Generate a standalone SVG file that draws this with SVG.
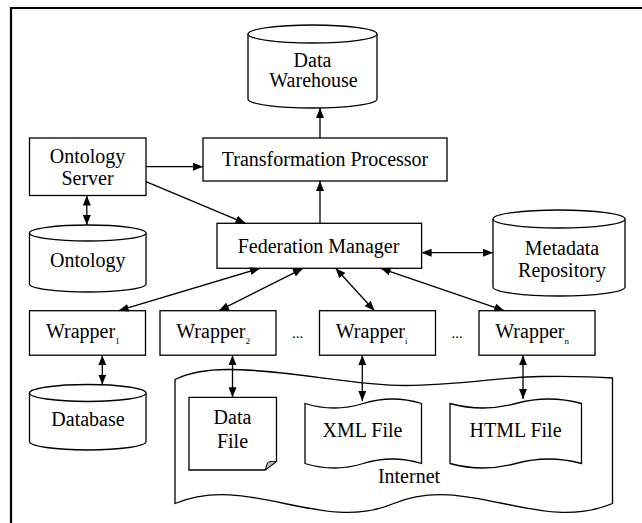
<svg xmlns="http://www.w3.org/2000/svg" width="642" height="523" viewBox="0 0 642 523">
  <defs>
    <style>
      .shape { fill: #fff; stroke: #000; stroke-width: 1.3; }
      .edge { fill: none; stroke: #000; stroke-width: 1.3; }
      .lbl { font-family: "Liberation Serif", "Times New Roman", serif; font-size: 20px; fill: #000; }
      .mid { text-anchor: middle; }
      .sub { font-size: 9px; }
      .dots { font-family: "Liberation Serif", "Times New Roman", serif; font-size: 15px; text-anchor: middle; fill: #000; }
      .frame { fill: none; stroke: #000; stroke-width: 2.2; }
    </style>
    <marker id="ah" viewBox="0 0 10 8" refX="10" refY="4" markerWidth="10" markerHeight="8" orient="auto-start-reverse" markerUnits="userSpaceOnUse">
      <path d="M0,0 L10,4 L0,8 Z" fill="#000"/>
    </marker>
  </defs>
  <rect width="642" height="523" fill="#fff"/>

  <!-- page frame (top and left edges) -->
  <path class="frame" d="M11,523 V8 H642"/>

  <!-- Internet region: wavy top and bottom edges -->
  <g id="internet">
    <path class="shape" d="M175,379.5 C190,372 208,369.5 228,369.5 C290,369.5 350,385.5 405,385.5 C460,385.5 500,377 540,376.5 C575,376 600,377 612.5,378 V503.5 C539.6,534.5 466.7,472.5 393.75,503.5 C321,534.5 248,472.5 175,503.5 Z"/>
    <text class="lbl mid" x="409" y="483">Internet</text>
  </g>

  <g id="data-warehouse">
    <path class="shape" d="M248,34 V99 A64.5,9 0 0 0 377,99 V34"/>
    <ellipse class="shape" cx="312.5" cy="34" rx="64.5" ry="9"/>
    <text class="lbl mid" x="312.5" y="67">Data</text>
    <text class="lbl mid" x="313.5" y="87">Warehouse</text>
  </g>

  <g id="transformation-processor">
    <rect class="shape" x="203" y="138" width="244" height="43"/>
    <text class="lbl mid" x="325" y="166">Transformation Processor</text>
  </g>

  <g id="ontology-server">
    <rect class="shape" x="29.5" y="138" width="116.5" height="57.5"/>
    <text class="lbl mid" x="87.5" y="163">Ontology</text>
    <text class="lbl mid" x="87.5" y="185">Server</text>
  </g>

  <g id="ontology">
    <path class="shape" d="M29.5,233 V284 A58.25,8 0 0 0 146,284 V233"/>
    <ellipse class="shape" cx="87.75" cy="233" rx="58.25" ry="8"/>
    <text class="lbl mid" x="87.75" y="267">Ontology</text>
  </g>

  <g id="federation-manager">
    <rect class="shape" x="217" y="223.3" width="204.6" height="45"/>
    <text class="lbl mid" x="318.5" y="253">Federation Manager</text>
  </g>

  <g id="metadata-repository">
    <path class="shape" d="M493,219 V287 A66,9 0 0 0 625,287 V219"/>
    <ellipse class="shape" cx="559" cy="219" rx="66" ry="9"/>
    <text class="lbl mid" x="562" y="255">Metadata</text>
    <text class="lbl mid" x="562" y="277">Repository</text>
  </g>

  <g id="wrapper-1">
    <rect class="shape" x="29.5" y="310.7" width="116" height="44.5"/>
    <text class="lbl" x="46" y="338">Wrapper<tspan class="sub" dy="6">1</tspan></text>
  </g>
  <g id="wrapper-2">
    <rect class="shape" x="160" y="310.7" width="116" height="44.5"/>
    <text class="lbl" x="176.3" y="338">Wrapper<tspan class="sub" dy="6">2</tspan></text>
  </g>
  <g id="wrapper-i">
    <rect class="shape" x="319.5" y="310.7" width="116" height="44.5"/>
    <text class="lbl" x="335.8" y="338">Wrapper<tspan class="sub" dy="6">i</tspan></text>
  </g>
  <g id="wrapper-n">
    <rect class="shape" x="479" y="310.7" width="116" height="44.5"/>
    <text class="lbl" x="495.3" y="338">Wrapper<tspan class="sub" dy="6">n</tspan></text>
  </g>
  <text class="dots" x="297.5" y="338">...</text>
  <text class="dots" x="457" y="338">...</text>

  <g id="database">
    <path class="shape" d="M29.5,393 V441.5 A58.25,8.5 0 0 0 146,441.5 V393"/>
    <ellipse class="shape" cx="87.75" cy="393" rx="58.25" ry="8.5"/>
    <text class="lbl mid" x="88" y="426">Database</text>
  </g>

  <g id="data-file">
    <path class="shape" d="M189,397.3 H276.5 V461.5 L265,470 H189 Z"/>
    <path d="M276.5,461.5 Q268,461 267.5,463 L265,470 Z" fill="#bbb" stroke="#000" stroke-width="1"/>
    <text class="lbl mid" x="232.5" y="424">Data</text>
    <text class="lbl mid" x="232.5" y="447.5">File</text>
  </g>

  <g id="xml-file">
    <path class="shape" d="M305,403.5 Q334.1,412.5 363.25,403.5 Q392.4,394.5 421.5,403.5 V463.5 Q392.4,454.5 363.25,463.5 Q334.1,472.5 305,463.5 Z"/>
    <text class="lbl mid" x="362.5" y="437">XML File</text>
  </g>

  <g id="html-file">
    <path class="shape" d="M450,403.5 Q482.9,412.5 515.75,403.5 Q548.6,394.5 581.5,403.5 V463.5 Q548.6,454.5 515.75,463.5 Q482.9,472.5 450,463.5 Z"/>
    <text class="lbl mid" x="515.5" y="436.5">HTML File</text>
  </g>

  <!-- connectors -->
  <g id="connectors">
    <line class="edge" x1="320" y1="138" x2="320" y2="108" marker-end="url(#ah)"/>
    <line class="edge" x1="320" y1="223.3" x2="320" y2="181" marker-end="url(#ah)"/>
    <line class="edge" x1="146" y1="166.7" x2="203" y2="166.7" marker-end="url(#ah)"/>
    <line class="edge" x1="146" y1="181.7" x2="245.6" y2="223.3" marker-end="url(#ah)"/>
    <line class="edge" x1="86.8" y1="195.5" x2="86.8" y2="225" marker-start="url(#ah)" marker-end="url(#ah)"/>
    <line class="edge" x1="421.6" y1="252.7" x2="493" y2="252.7" marker-start="url(#ah)" marker-end="url(#ah)"/>
    <line class="edge" x1="260" y1="268.3" x2="118.7" y2="310.7" marker-start="url(#ah)" marker-end="url(#ah)"/>
    <line class="edge" x1="303" y1="268.3" x2="219" y2="310.7" marker-start="url(#ah)" marker-end="url(#ah)"/>
    <line class="edge" x1="335.6" y1="268.3" x2="374.5" y2="310.7" marker-start="url(#ah)" marker-end="url(#ah)"/>
    <line class="edge" x1="380.7" y1="268.3" x2="504.3" y2="310.7" marker-start="url(#ah)" marker-end="url(#ah)"/>
    <line class="edge" x1="102.3" y1="355.2" x2="102.3" y2="384.5" marker-start="url(#ah)" marker-end="url(#ah)"/>
    <line class="edge" x1="232.5" y1="355.2" x2="232.5" y2="397.3" marker-start="url(#ah)" marker-end="url(#ah)"/>
    <line class="edge" x1="362.3" y1="355.2" x2="362.3" y2="401" marker-start="url(#ah)" marker-end="url(#ah)"/>
    <line class="edge" x1="523" y1="355.2" x2="523" y2="399" marker-start="url(#ah)" marker-end="url(#ah)"/>
  </g>
</svg>
